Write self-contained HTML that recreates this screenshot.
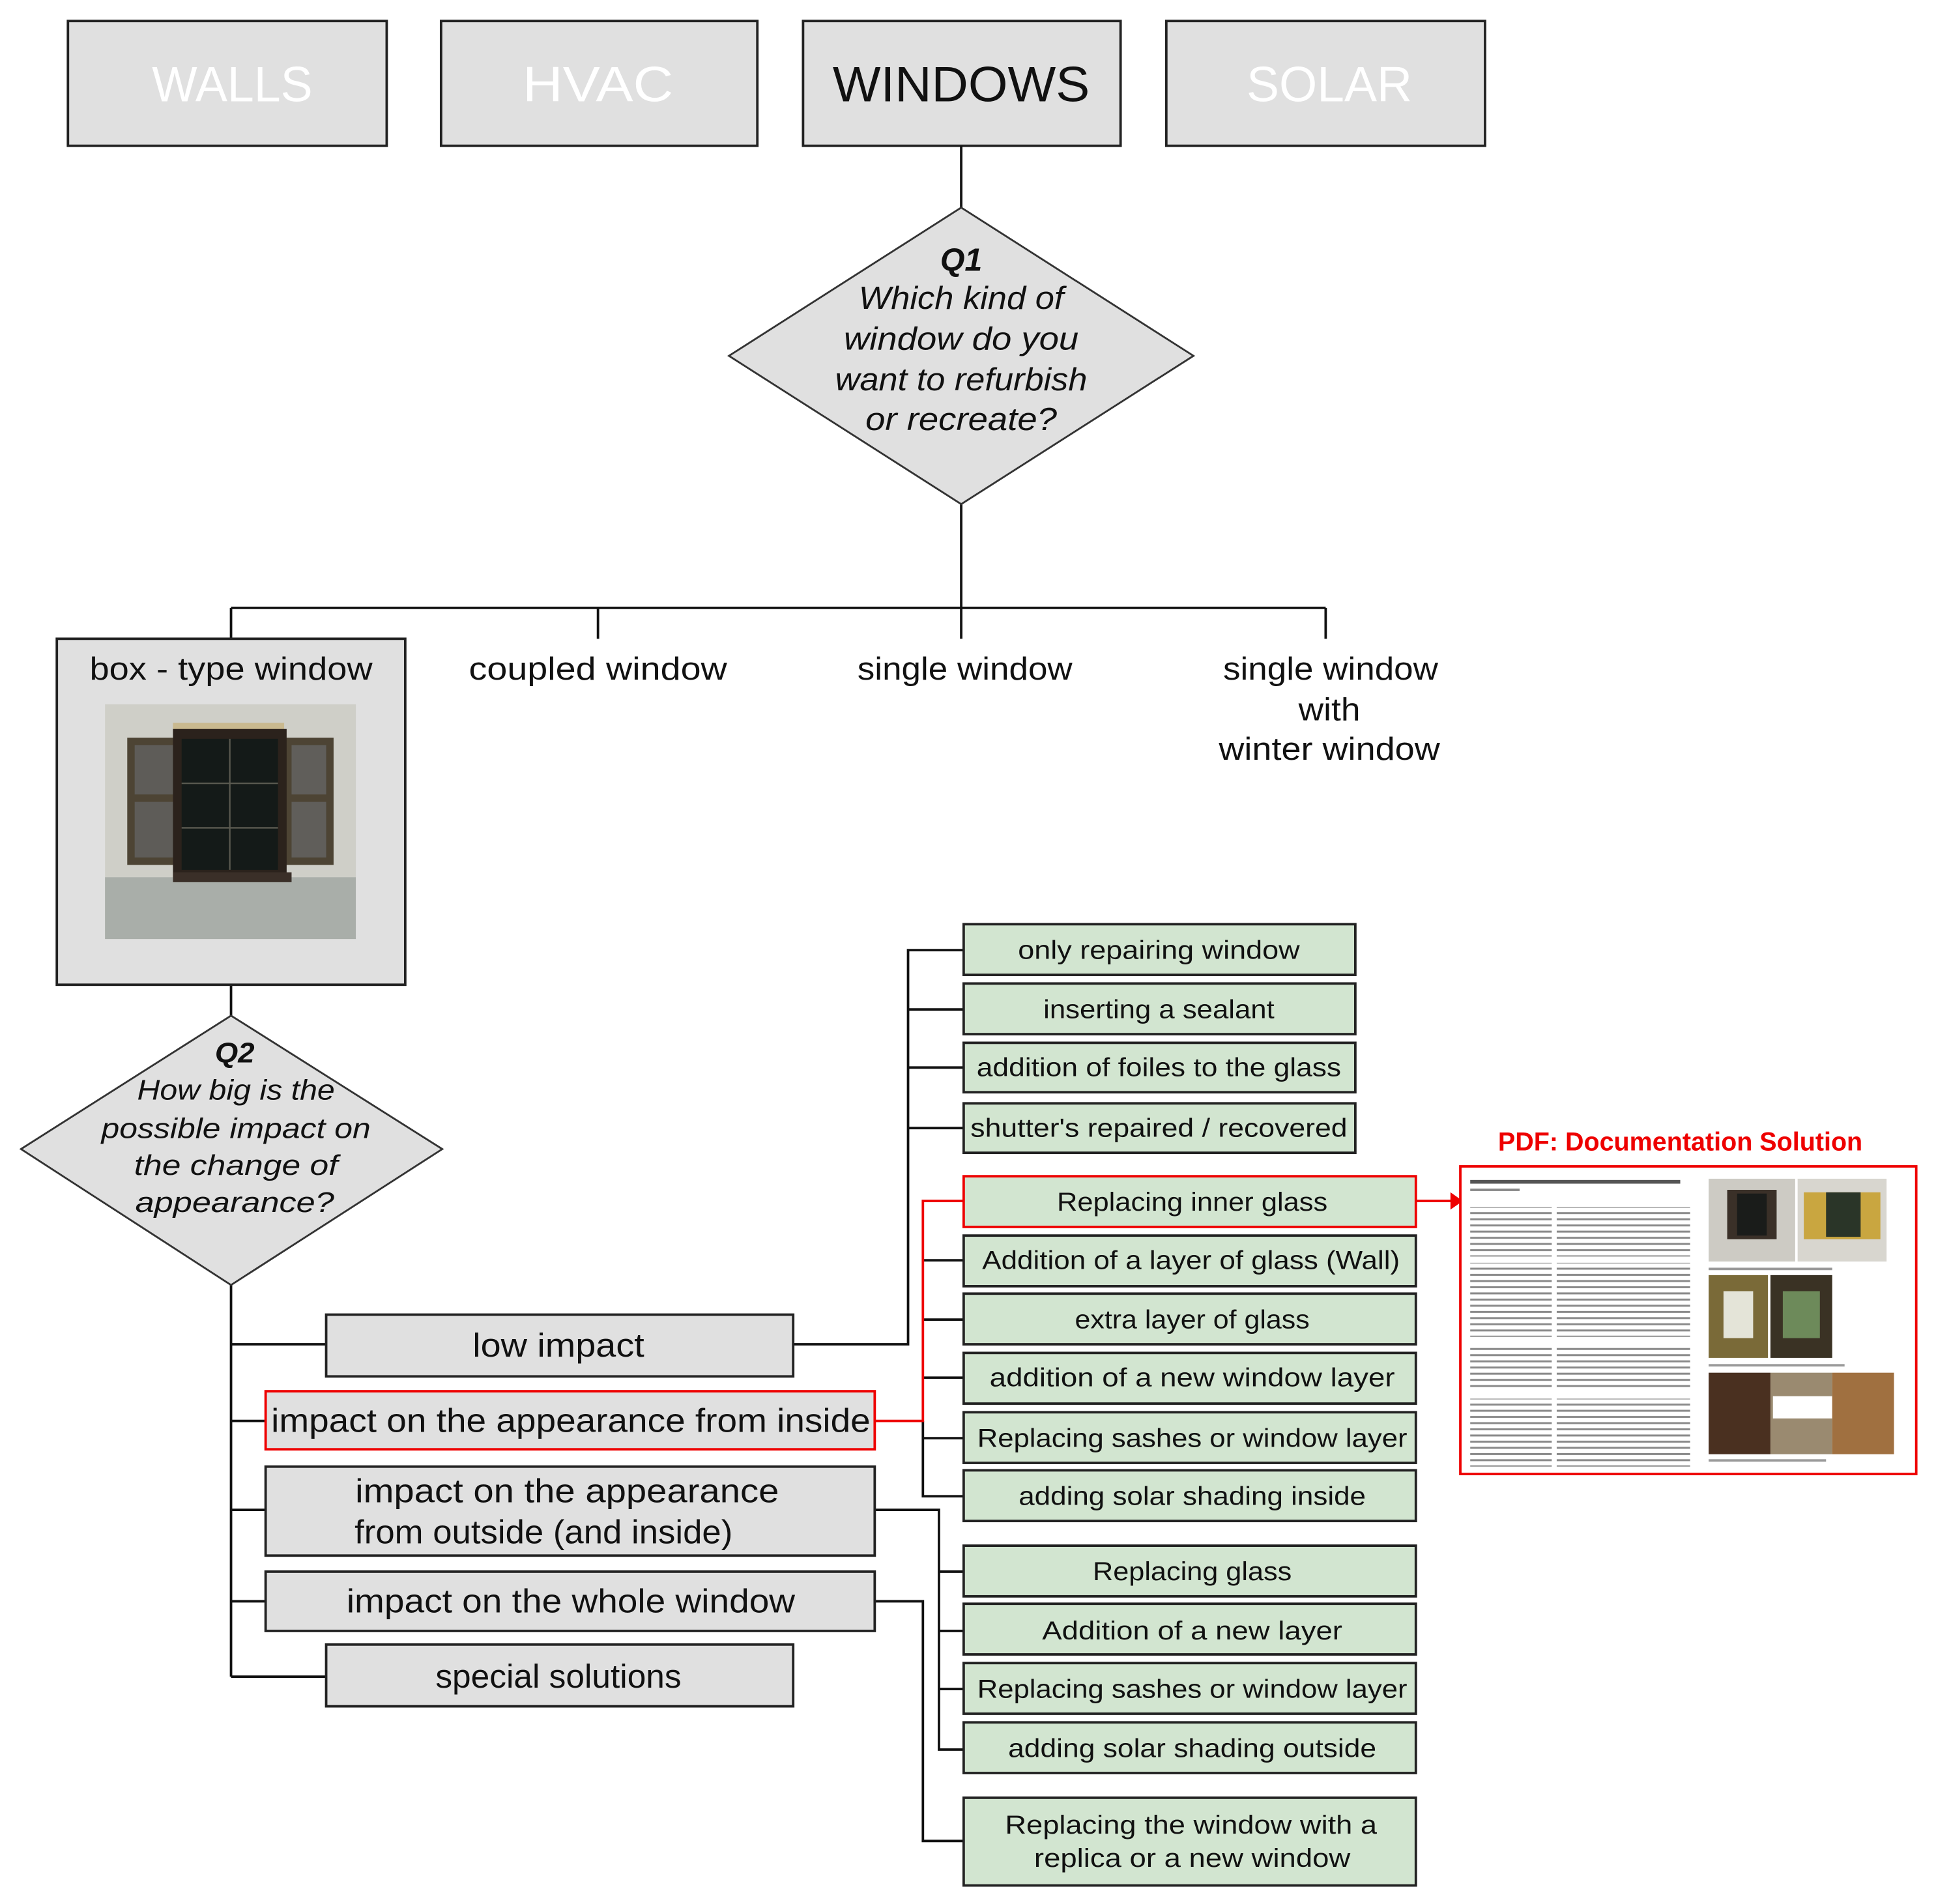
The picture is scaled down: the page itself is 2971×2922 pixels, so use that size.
<!DOCTYPE html>
<html><head><meta charset="utf-8"><style>
html,body{margin:0;padding:0;background:#fff}
svg{display:block}
text{font-family:"Liberation Sans",sans-serif}
</style></head><body>
<svg width="2971" height="2922" viewBox="0 0 1567 1541" preserveAspectRatio="none" xmlns="http://www.w3.org/2000/svg">
<defs>
<pattern id="txt" width="180" height="5" patternUnits="userSpaceOnUse"><rect x="0" y="1" width="176" height="1.6" fill="#8a8a8a"/></pattern>
</defs>
<rect width="1567" height="1541" fill="#fff"/>
<g stroke="#222" stroke-width="2" fill="#e0e0e0">
<rect x="55" y="17" width="258" height="101"/>
<rect x="357" y="17" width="256" height="101"/>
<rect x="650" y="17" width="257" height="101"/>
<rect x="944" y="17" width="258" height="101"/>
</g>
<g font-size="40" text-anchor="middle">
<text x="188" y="82" fill="#fff" textLength="130" lengthAdjust="spacingAndGlyphs">WALLS</text>
<text x="484" y="82" fill="#fff" textLength="122" lengthAdjust="spacingAndGlyphs">HVAC</text>
<text x="778" y="82" fill="#111" textLength="208" lengthAdjust="spacingAndGlyphs">WINDOWS</text>
<text x="1076" y="82" fill="#fff" textLength="134" lengthAdjust="spacingAndGlyphs">SOLAR</text>
</g>
<g stroke="#111" stroke-width="2" fill="none">
<line x1="778" y1="118" x2="778" y2="168"/>
<line x1="778" y1="408" x2="778" y2="492"/>
<line x1="187" y1="492" x2="1073" y2="492"/>
<line x1="187" y1="492" x2="187" y2="517"/>
<line x1="484" y1="492" x2="484" y2="517"/>
<line x1="778" y1="492" x2="778" y2="517"/>
<line x1="1073" y1="492" x2="1073" y2="517"/>
<line x1="187" y1="797" x2="187" y2="822"/>
<line x1="187" y1="1040" x2="187" y2="1357"/>
<line x1="187" y1="1088" x2="264" y2="1088"/>
<line x1="187" y1="1150" x2="215" y2="1150"/>
<line x1="187" y1="1222" x2="215" y2="1222"/>
<line x1="187" y1="1296" x2="215" y2="1296"/>
<line x1="187" y1="1357" x2="264" y2="1357"/>
<polyline points="642,1088 735,1088 735,769 780,769"/>
<line x1="735" y1="817" x2="780" y2="817"/>
<line x1="735" y1="864" x2="780" y2="864"/>
<line x1="735" y1="913" x2="780" y2="913"/>
<polyline points="747,1150 747,1211 780,1211"/>
<line x1="747" y1="1020" x2="780" y2="1020"/>
<line x1="747" y1="1068" x2="780" y2="1068"/>
<line x1="747" y1="1115" x2="780" y2="1115"/>
<line x1="747" y1="1164" x2="780" y2="1164"/>
<polyline points="708,1222 760,1222 760,1416 780,1416"/>
<line x1="760" y1="1272" x2="780" y2="1272"/>
<line x1="760" y1="1320" x2="780" y2="1320"/>
<line x1="760" y1="1367" x2="780" y2="1367"/>
<polyline points="708,1296 747,1296 747,1490 780,1490"/>
</g>
<g stroke="#e00" stroke-width="2" fill="none">
<polyline points="708,1150 747,1150 747,972 780,972"/>
<line x1="1146" y1="972" x2="1176" y2="972"/>
</g>
<polygon points="1174,965 1184,972 1174,979" fill="#e00"/>
<polygon points="778,168 966,288 778,408 590,288" fill="#e0e0e0" stroke="#333" stroke-width="1.5"/>
<g font-size="26" font-style="italic" text-anchor="middle" fill="#111">
<text x="778" y="219" font-weight="bold" textLength="34" lengthAdjust="spacingAndGlyphs">Q1</text>
<text x="778" y="250" textLength="166" lengthAdjust="spacingAndGlyphs">Which kind of</text>
<text x="778" y="283" textLength="190" lengthAdjust="spacingAndGlyphs">window do you</text>
<text x="778" y="316" textLength="204" lengthAdjust="spacingAndGlyphs">want to refurbish</text>
<text x="778" y="348" textLength="155" lengthAdjust="spacingAndGlyphs">or recreate?</text>
</g>
<rect x="46" y="517" width="282" height="280" fill="#e0e0e0" stroke="#222" stroke-width="2"/>
<g font-size="26" text-anchor="middle" fill="#111">
<text x="187" y="550" textLength="229" lengthAdjust="spacingAndGlyphs">box - type window</text>
<text x="484" y="550" textLength="209" lengthAdjust="spacingAndGlyphs">coupled window</text>
<text x="781" y="550" textLength="174" lengthAdjust="spacingAndGlyphs">single window</text>
<text x="1077" y="550" textLength="174" lengthAdjust="spacingAndGlyphs">single window</text>
<text x="1076" y="583" textLength="50" lengthAdjust="spacingAndGlyphs">with</text>
<text x="1076" y="615" textLength="179" lengthAdjust="spacingAndGlyphs">winter window</text>
</g>
<g>
<rect x="85" y="570" width="203" height="190" fill="#cfcfc8"/>
<rect x="85" y="710" width="203" height="50" fill="#a9aea9"/>
<rect x="140" y="585" width="90" height="10" fill="#c9b98f"/>
<rect x="103" y="597" width="43" height="103" fill="#4d4434"/>
<rect x="109" y="603" width="31" height="40" fill="#5e5c58"/>
<rect x="109" y="649" width="31" height="45" fill="#5e5c58"/>
<rect x="230" y="597" width="40" height="103" fill="#4d4434"/>
<rect x="236" y="603" width="28" height="40" fill="#605e5a"/>
<rect x="236" y="649" width="28" height="45" fill="#605e5a"/>
<rect x="140" y="590" width="92" height="120" fill="#2b221c"/>
<rect x="147" y="598" width="78" height="106" fill="#141a18"/>
<g stroke="#5a5a50" stroke-width="1.2">
<line x1="186" y1="598" x2="186" y2="704"/>
<line x1="147" y1="634" x2="225" y2="634"/>
<line x1="147" y1="670" x2="225" y2="670"/>
</g>
<rect x="140" y="706" width="96" height="8" fill="#3a2f28"/>
</g>
<polygon points="187,822 358,930 187,1040 17,930" fill="#e0e0e0" stroke="#333" stroke-width="1.5"/>
<g font-size="23" font-style="italic" text-anchor="middle" fill="#111">
<text x="190" y="860" font-weight="bold" textLength="32" lengthAdjust="spacingAndGlyphs">Q2</text>
<text x="191" y="890" textLength="160" lengthAdjust="spacingAndGlyphs">How big is the</text>
<text x="191" y="921" textLength="218" lengthAdjust="spacingAndGlyphs">possible impact on</text>
<text x="191" y="951" textLength="165" lengthAdjust="spacingAndGlyphs">the change of</text>
<text x="190" y="981" textLength="161" lengthAdjust="spacingAndGlyphs">appearance?</text>
</g>
<g fill="#e0e0e0" stroke="#222" stroke-width="2">
<rect x="264" y="1064" width="378" height="50"/>
<rect x="215" y="1187" width="493" height="72"/>
<rect x="215" y="1272" width="493" height="48"/>
<rect x="264" y="1331" width="378" height="50"/>
</g>
<rect x="215" y="1126" width="493" height="47" fill="#e0e0e0" stroke="#e00" stroke-width="2"/>
<g font-size="27" text-anchor="middle" fill="#111">
<text x="452" y="1098" textLength="139" lengthAdjust="spacingAndGlyphs">low impact</text>
<text x="462" y="1159" textLength="485" lengthAdjust="spacingAndGlyphs">impact on the appearance from inside</text>
<text x="459" y="1216" textLength="343" lengthAdjust="spacingAndGlyphs">impact on the appearance</text>
<text x="440" y="1249" textLength="306" lengthAdjust="spacingAndGlyphs">from outside (and inside)</text>
<text x="462" y="1305" textLength="363" lengthAdjust="spacingAndGlyphs">impact on the whole window</text>
<text x="452" y="1366" textLength="199" lengthAdjust="spacingAndGlyphs">special solutions</text>
</g>
<g fill="#d2e5d0" stroke="#222" stroke-width="2">
<rect x="780" y="748" width="317" height="41"/>
<rect x="780" y="796" width="317" height="41"/>
<rect x="780" y="844" width="317" height="40"/>
<rect x="780" y="893" width="317" height="40"/>
<rect x="780" y="1000" width="366" height="41"/>
<rect x="780" y="1047" width="366" height="41"/>
<rect x="780" y="1095" width="366" height="41"/>
<rect x="780" y="1143" width="366" height="41"/>
<rect x="780" y="1190" width="366" height="41"/>
<rect x="780" y="1251" width="366" height="41"/>
<rect x="780" y="1298" width="366" height="41"/>
<rect x="780" y="1346" width="366" height="41"/>
<rect x="780" y="1394" width="366" height="41"/>
<rect x="780" y="1455" width="366" height="71"/>
</g>
<rect x="780" y="952" width="366" height="41" fill="#d2e5d0" stroke="#e00" stroke-width="2"/>
<g font-size="21" text-anchor="middle" fill="#111">
<text x="938" y="776" textLength="228" lengthAdjust="spacingAndGlyphs">only repairing window</text>
<text x="938" y="824" textLength="187" lengthAdjust="spacingAndGlyphs">inserting a sealant</text>
<text x="938" y="871" textLength="295" lengthAdjust="spacingAndGlyphs">addition of foiles to the glass</text>
<text x="938" y="920" textLength="305" lengthAdjust="spacingAndGlyphs">shutter's repaired / recovered</text>
<text x="965" y="980" textLength="219" lengthAdjust="spacingAndGlyphs">Replacing inner glass</text>
<text x="964" y="1027" textLength="338" lengthAdjust="spacingAndGlyphs">Addition of a layer of glass (Wall)</text>
<text x="965" y="1075" textLength="190" lengthAdjust="spacingAndGlyphs">extra layer of glass</text>
<text x="965" y="1122" textLength="328" lengthAdjust="spacingAndGlyphs">addition of a new window layer</text>
<text x="965" y="1171" textLength="348" lengthAdjust="spacingAndGlyphs">Replacing sashes or window layer</text>
<text x="965" y="1218" textLength="281" lengthAdjust="spacingAndGlyphs">adding solar shading inside</text>
<text x="965" y="1279" textLength="161" lengthAdjust="spacingAndGlyphs">Replacing glass</text>
<text x="965" y="1327" textLength="243" lengthAdjust="spacingAndGlyphs">Addition of a new layer</text>
<text x="965" y="1374" textLength="348" lengthAdjust="spacingAndGlyphs">Replacing sashes or window layer</text>
<text x="965" y="1422" textLength="298" lengthAdjust="spacingAndGlyphs">adding solar shading outside</text>
<text x="964" y="1484" textLength="301" lengthAdjust="spacingAndGlyphs">Replacing the window with a</text>
<text x="965" y="1511" textLength="256" lengthAdjust="spacingAndGlyphs">replica or a new window</text>
</g>
<text x="1360" y="931" font-size="21" font-weight="bold" fill="#e00" text-anchor="middle" textLength="295" lengthAdjust="spacingAndGlyphs">PDF: Documentation Solution</text>
<rect x="1182" y="944" width="369" height="249" fill="#fff" stroke="#e00" stroke-width="2"/>
<rect x="1190" y="955" width="170" height="3" fill="#555"/>
<rect x="1190" y="962" width="40" height="2" fill="#888"/>
<rect x="1190" y="977" width="178" height="40" fill="url(#txt)"/>
<rect x="1190" y="1022" width="178" height="60" fill="url(#txt)"/>
<rect x="1190" y="1088" width="178" height="35" fill="url(#txt)"/>
<rect x="1190" y="1132" width="178" height="55" fill="url(#txt)"/>
<rect x="1383" y="954" width="70" height="67" fill="#cdcbc4"/>
<rect x="1398" y="963" width="40" height="40" fill="#3a3028"/>
<rect x="1406" y="966" width="24" height="34" fill="#1a1c1a"/>
<rect x="1455" y="954" width="72" height="67" fill="#d8d6cf"/>
<rect x="1460" y="965" width="62" height="38" fill="#c9a640"/>
<rect x="1478" y="965" width="28" height="36" fill="#2a3528"/>
<rect x="1383" y="1026" width="100" height="2" fill="#999"/>
<rect x="1383" y="1032" width="48" height="67" fill="#7a6a38"/>
<rect x="1395" y="1045" width="24" height="38" fill="#e4e4d8"/>
<rect x="1433" y="1032" width="50" height="67" fill="#3a3224"/>
<rect x="1443" y="1045" width="30" height="38" fill="#6d8a5a"/>
<rect x="1383" y="1104" width="110" height="2" fill="#999"/>
<rect x="1383" y="1111" width="50" height="66" fill="#4a3020"/>
<rect x="1433" y="1111" width="50" height="66" fill="#9a8a70"/>
<rect x="1435" y="1130" width="48" height="18" fill="#fff"/>
<rect x="1483" y="1111" width="50" height="66" fill="#a07040"/>
<rect x="1383" y="1181" width="95" height="2" fill="#999"/>
</svg>
</body></html>
